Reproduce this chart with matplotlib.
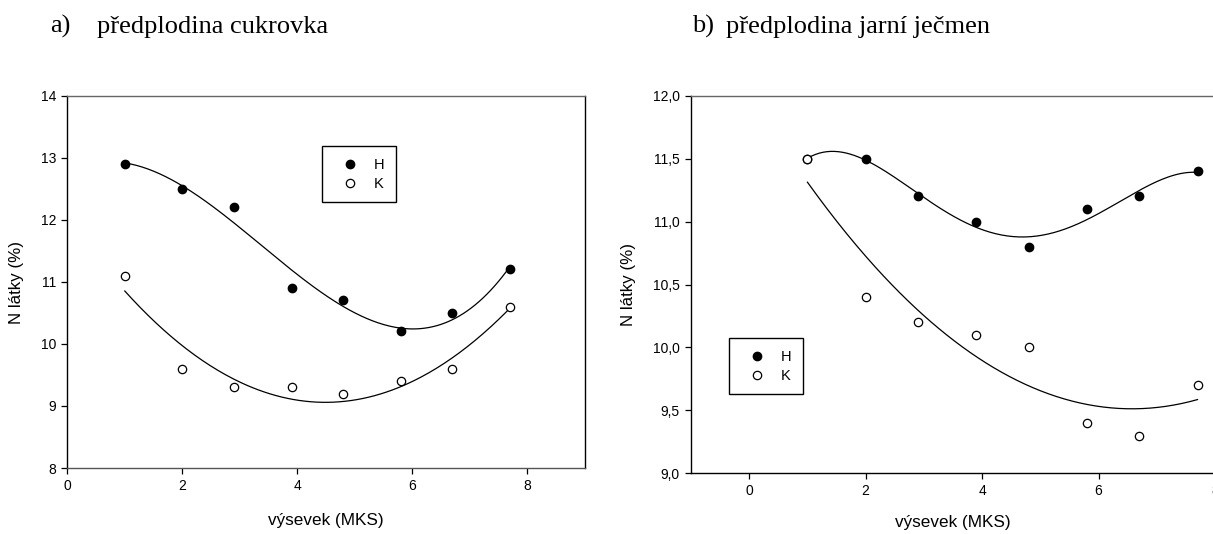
import numpy as np
import matplotlib
matplotlib.use('Agg')
import matplotlib.pyplot as plt

# data
x_mks = [1.0, 2.0, 2.9, 3.9, 4.8, 5.8, 6.7, 7.7]
a_H = [12.9, 12.5, 12.2, 10.9, 10.7, 10.2, 10.5, 11.2]
a_K = [11.1, 9.6, 9.3, 9.3, 9.2, 9.4, 9.6, 10.6]
b_H = [11.5, 11.5, 11.2, 11.0, 10.8, 11.1, 11.2, 11.4]
b_K = [11.5, 10.4, 10.2, 10.1, 10.0, 9.4, 9.3, 9.7]

a_yticks = [8, 9, 10, 11, 12, 13, 14]
b_yticks = [9.0, 9.5, 10.0, 10.5, 11.0, 11.5, 12.0]
xticks = [0, 2, 4, 6, 8]

W, H = 1213, 534
sans = ['Liberation Sans', 'DejaVu Sans']
serif = ['Liberation Serif', 'DejaVu Serif']
plt.rcParams['font.family'] = sans

fig = plt.figure(figsize=(W / 100, H / 100), dpi=100)


def px_axes(x0, y0, x1, y1):
    # pixel box (top-left origin) -> axes
    return fig.add_axes([x0 / W, 1 - y1 / H, (x1 - x0) / W, (y1 - y0) / H])


def fit_curve(ax, x, y, deg):
    c = np.polyfit(x, y, deg)
    t = np.linspace(min(x), max(x), 200)
    ax.plot(t, np.polyval(c, t), color='black', lw=0.9, zorder=2)


def style(ax):
    for s in ['left', 'bottom', 'top', 'right']:
        ax.spines[s].set_linewidth(1.0)
    ax.spines['top'].set_color('#666666')
    ax.tick_params(direction='out', length=4, width=0.9, labelsize=10, pad=4)


def draw(ax, H_vals, K_vals, degH, degK):
    fit_curve(ax, x_mks, H_vals, degH)
    fit_curve(ax, x_mks, K_vals, degK)
    ax.plot(x_mks, H_vals, 'o', ms=6, mfc='black', mec='black', ls='none', label='H', zorder=3)
    ax.plot(x_mks, K_vals, 'o', ms=6, mfc='white', mec='black', mew=0.9, ls='none', label='K', zorder=4)


def legend(ax, x0, y0):
    bb = ax.get_position()
    ax_w, ax_h = bb.width * W, bb.height * H
    ax_x0, ax_y1 = bb.x0 * W, (1 - bb.y1) * H
    lg = ax.legend(loc='upper left',
                   bbox_to_anchor=((x0 - ax_x0) / ax_w, 1 - (y0 - ax_y1) / ax_h),
                   fancybox=False, framealpha=1, edgecolor='black',
                   fontsize=10.5, handletextpad=0.55, borderpad=0.8,
                   labelspacing=0.35, handlelength=2.2, borderaxespad=0,
                   markerscale=1.0)
    lg.get_frame().set_linewidth(1.0)


# a) panel
ax1 = px_axes(67.3, 95.7, 584.7, 468)
draw(ax1, a_H, a_K, 3, 2)
ax1.set_xlim(0, 9)
ax1.set_ylim(8, 14)
ax1.set_xticks(xticks)
ax1.set_yticks(a_yticks)
style(ax1)
ax1.spines['bottom'].set_color('#555555')
legend(ax1, 322, 146)

# b) panel (cut off at the right edge in the original)
ax2 = px_axes(691, 95.7, 1215, 473.3)
draw(ax2, b_H, b_K, 4, 2)
ax2.set_xlim(-1, 8)
ax2.set_ylim(9, 12)
ax2.set_xticks(xticks)
ax2.set_yticks(b_yticks)
ax2.set_yticklabels([f'{v:.1f}'.replace('.', ',') for v in b_yticks])
style(ax2)
legend(ax2, 729, 338)

# labels
fig.text(17 / W, 1 - 282 / H, 'N látky (%)', rotation=90, ha='center', va='center', fontsize=12.2)
fig.text(629 / W, 1 - 285 / H, 'N látky (%)', rotation=90, ha='center', va='center', fontsize=12.2)
fig.text(326 / W, 1 - 520 / H, 'výsevek (MKS)', ha='center', va='center', fontsize=12.3)
fig.text(953 / W, 1 - 523 / H, 'výsevek (MKS)', ha='center', va='center', fontsize=12.3)

fig.text(50 / W, 1 - 33 / H, 'a)', ha='left', va='baseline', fontsize=19, family=serif)
fig.text(97 / W, 1 - 33 / H, 'předplodina cukrovka', ha='left', va='baseline', fontsize=19, family=serif)
fig.text(692 / W, 1 - 33 / H, 'b)', ha='left', va='baseline', fontsize=19, family=serif)
fig.text(726 / W, 1 - 33 / H, 'předplodina jarní ječmen', ha='left', va='baseline', fontsize=19, family=serif)

fig.savefig('out.png', dpi=100)
